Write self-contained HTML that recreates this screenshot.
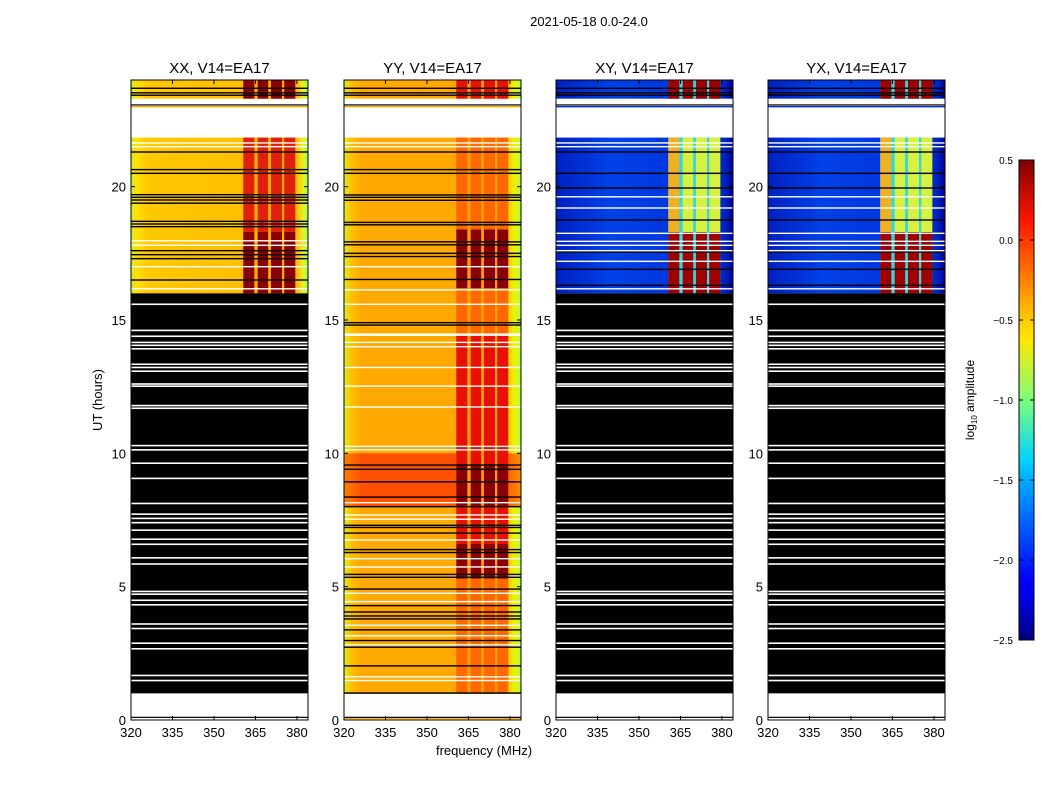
<!DOCTYPE html>
<html><head><meta charset="utf-8">
<style>
html,body{margin:0;padding:0;background:#fff;}
svg{display:block;font-family:"Liberation Sans",sans-serif;}
</style></head>
<body>
<svg id="chart" width="1050" height="800" viewBox="0 0 1050 800" xmlns="http://www.w3.org/2000/svg">
<defs>
<linearGradient id="gXX" x1="0" x2="1" y1="0" y2="0">
<stop offset="0" stop-color="#c8f030"/><stop offset="0.03" stop-color="#ffe000"/><stop offset="0.1" stop-color="#ffc800"/><stop offset="0.6" stop-color="#ffc000"/><stop offset="0.93" stop-color="#ffb000"/><stop offset="0.97" stop-color="#e8f020"/><stop offset="1" stop-color="#a8ff50"/>
</linearGradient>
<linearGradient id="gYY" x1="0" x2="1" y1="0" y2="0">
<stop offset="0" stop-color="#d8f020"/><stop offset="0.04" stop-color="#ffc000"/><stop offset="0.1" stop-color="#ffa800"/><stop offset="0.9" stop-color="#ffa800"/><stop offset="0.96" stop-color="#f0f000"/><stop offset="1" stop-color="#b0ff40"/>
</linearGradient>
<linearGradient id="gRED" x1="0" x2="1" y1="0" y2="0">
<stop offset="0" stop-color="#ff8000"/><stop offset="0.1" stop-color="#ff5000"/><stop offset="0.9" stop-color="#ff5000"/><stop offset="1" stop-color="#ff9000"/>
</linearGradient>
<linearGradient id="gXY" x1="0" x2="1" y1="0" y2="0">
<stop offset="0" stop-color="#0020c0"/><stop offset="0.3" stop-color="#0040e8"/><stop offset="0.6" stop-color="#0038e0"/><stop offset="0.95" stop-color="#0028c0"/><stop offset="1" stop-color="#0000a0"/>
</linearGradient>
<linearGradient id="gJet" x1="0" x2="0" y1="1" y2="0">
<stop offset="0" stop-color="#00007f"/><stop offset="0.11" stop-color="#0000ff"/><stop offset="0.125" stop-color="#0000ff"/><stop offset="0.34" stop-color="#00b0ff"/><stop offset="0.375" stop-color="#00d4ff"/><stop offset="0.5" stop-color="#7dff7a"/><stop offset="0.625" stop-color="#ffe600"/><stop offset="0.66" stop-color="#ffd000"/><stop offset="0.875" stop-color="#ff1400"/><stop offset="1" stop-color="#7f0000"/>
</linearGradient>
</defs>
</svg>
<script>
const hourTicks=[0,5,10,15,20];
const freqTicks=[320,335,350,365,380];
const bandEdges=[[360.6,364.6],[365.8,369.6],[370.6,374.6],[375.4,379.4]];
const panelTitles=["XX, V14=EA17","YY, V14=EA17","XY, V14=EA17","YX, V14=EA17"];
const cbTicks=[0.5,0.0,-0.5,-1.0,-1.5,-2.0,-2.5];
const cbLabels=["0.5","0.0","\u22120.5","\u22121.0","\u22121.5","\u22122.0","\u22122.5"];

// time blocks [start,end,bandLevel]
const xxBlocks=[[16.0,18.3,"high"],[18.3,21.84,"mid"],[23.3,24,"high"]];
const yyBlocks=[[1.0,5.3,"low"],[5.3,6.6,"high"],[6.6,8.0,"mid"],[8.0,9.6,"high"],[9.6,14.5,"mid"],[14.5,16.2,"low"],[16.2,18.4,"high"],[18.4,21.84,"low"],[23.3,24,"mid"]];
const yyRedBlocks=[[8.0,10.0]];
const xyBlocks=[[16.0,18.3,"high"],[18.3,21.84,"mid"],[23.3,24,"high"]];
const flaggedBlock=[1.0,16.0];
// line flags (hours)
const blackGapWhite=[1.48,1.67,2.67,2.88,3.43,3.6,4.32,4.49,4.72,4.82,5.85,6.08,6.59,6.78,7.12,7.4,7.56,7.72,8.12,9.06,9.63,10.13,10.29,11.69,11.79,12.52,12.6,13.08,13.22,13.34,13.92,14.05,14.16,14.39,14.61,15.59];
const xxBlackLines=[16.5,17.3,17.45,17.6,18.5,18.6,18.7,19.38,19.5,19.6,19.7,20.5,20.64,21.3,23.43,23.52,23.69];
const xxWhiteLines=[16.17,17.0,17.8,17.97,21.5,21.64];
const yyBlackLines=[2.03,2.73,2.98,3.38,3.79,3.9,4.05,4.29,4.91,5.35,5.46,6.28,6.39,7.01,7.22,7.3,8.0,8.36,8.93,9.4,9.56,14.81,14.9,16.52,17.38,17.5,17.82,17.93,18.57,18.66,19.49,19.6,19.69,20.5,20.64,21.3,23.43,23.52,23.69];
const yyWhiteLines=[1.48,1.62,2.82,3.16,3.55,4.44,4.75,5.74,6.05,6.75,7.53,7.69,8.15,10.13,10.26,11.74,12.52,13.22,14.0,14.16,14.43,14.47,15.59,16.13,17.0,21.5,21.64];
const xyBlackLines=[16.3,16.9,17.55,18.75,19.95,20.5,21.3,23.43,23.52,23.69];
const xyWhiteLines=[16.17,17.2,17.6,17.8,17.95,18.25,19.2,19.62,21.5,21.64];

const svg=document.getElementById('chart');
const NS="http://www.w3.org/2000/svg";
function mk(tag,attrs,parent){const e=document.createElementNS(NS,tag);for(const k in attrs)e.setAttribute(k,attrs[k]);(parent||svg).appendChild(e);return e;}

const panels=[{x0:131,kind:"xx"},{x0:344,kind:"yy"},{x0:556,kind:"xy"},{x0:768,kind:"yx"}];
const PW=177,PY0=80,PY1=720;
function yOf(h){return PY1-(h/24)*(PY1-PY0);}

const bandCol={
  xx:{high:"#880000",mid:"#e02008",low:"#ff7000",gap:"#ffb000"},
  yy:{high:"#8a0000",mid:"#e81000",low:"#ff6800",gap:"#ffa000"},
  xy:{high:"#a00000",mid:"#d8f040",low:"#a0ff60",gap:"#30d8e0"}
};

panels.forEach((p,pi)=>{
  const xOf=f=>p.x0+(f-320)*PW/64;
  const g=mk('g',{});
  
  
  const isCross=(p.kind==="xy"||p.kind==="yx");
  const cols=isCross?bandCol.xy:bandCol[p.kind];
  const blocks=p.kind==="yy"?yyBlocks:(isCross?xyBlocks:xxBlocks);
  const bgFill=p.kind==="yy"?"url(#gYY)":(isCross?"url(#gXY)":"url(#gXX)");
  blocks.forEach(b=>{
    const r=mk('rect',{x:p.x0,y:yOf(b[1]),width:PW,height:yOf(b[0])-yOf(b[1]),fill:bgFill},g);
    
    
  });
  if(p.kind==="yy"){
    yyRedBlocks.forEach(b=>{
      const r=mk('rect',{x:p.x0,y:yOf(b[1]),width:PW,height:yOf(b[0])-yOf(b[1]),fill:"url(#gRED)"},g);
      
      
    });
  }
  // band region
  blocks.forEach(b=>{
    const gap=mk('rect',{x:xOf(bandEdges[0][0]),y:yOf(b[1]),width:xOf(bandEdges[3][1])-xOf(bandEdges[0][0]),height:yOf(b[0])-yOf(b[1]),fill:cols.gap},g);
    
    
    bandEdges.forEach(e=>{
      const c=(isCross&&b[2]==="mid")?(e[0]<365?"#f0b020":"#d8f040"):cols[b[2]];
      const r=mk('rect',{x:xOf(e[0]),y:yOf(b[1]),width:xOf(e[1])-xOf(e[0]),height:yOf(b[0])-yOf(b[1]),fill:c},g);
      
      
    });
  });
  if(p.kind!=="yy"){
    const fb=mk('rect',{x:p.x0,y:yOf(flaggedBlock[1]),width:PW,height:yOf(flaggedBlock[0])-yOf(flaggedBlock[1]),fill:"#000"},g);
    
    
    blackGapWhite.forEach(h=>{
      const l=mk('rect',{x:p.x0,y:yOf(h)-0.8,width:PW,height:1.6,fill:"#fff"},g);
      
      
    });
  } else {
    const b1=mk('rect',{x:p.x0,y:yOf(1.0)-1,width:PW,height:1.5,fill:"#000"},g);
    
    
    const ol=mk('rect',{x:p.x0,y:yOf(0.05)-1,width:PW,height:1.5,fill:"#ffb000"},g);
    
    
  }
  const bl=p.kind==="yy"?yyBlackLines:(isCross?xyBlackLines:xxBlackLines);
  const wl=p.kind==="yy"?yyWhiteLines:(isCross?xyWhiteLines:xxWhiteLines);
  bl.forEach(h=>{
    const l=mk('rect',{x:p.x0,y:yOf(h)-0.7,width:PW,height:1.4,fill:"#000"},g);
    
    
  });
  wl.forEach(h=>{
    const l=mk('rect',{x:p.x0,y:yOf(h)-0.7,width:PW,height:1.4,fill:"#fff"},g);
    
    
  });
  // thin line in white gap ~23.0
  const tl=mk('rect',{x:p.x0,y:yOf(23.0)-0.7,width:PW,height:1.4,fill:isCross?"#0030d0":"#ffb000"},g);
  
  
  const tb=mk('rect',{x:p.x0,y:yOf(23.05)-1,width:PW,height:1.2,fill:"#000"},g);
  
  
  // bottom line near 0
  const bt=mk('rect',{x:p.x0,y:yOf(0.1)-0.6,width:PW,height:1.2,fill:"#000"},g);
  
  
  // frame
  const fr=mk('rect',{x:p.x0,y:PY0,width:PW,height:PY1-PY0,fill:"none",stroke:"#000","stroke-width":1},g);
  
  
  // ticks
  freqTicks.forEach((f,i)=>{
    const x=xOf(f);
    const t1=mk('line',{x1:x,x2:x,y1:PY1,y2:PY1-4,stroke:"#000"},g);
    
    
    const t2=mk('line',{x1:x,x2:x,y1:PY0,y2:PY0+4,stroke:"#000"},g);
    
    
    const tx=mk('text',{x:x,y:PY1+17,"font-size":13,"text-anchor":"middle",fill:"#000"},g);
    tx.textContent=String(f);
    
    
  });
  hourTicks.forEach(h=>{
    const y=yOf(h);
    const t1=mk('line',{x1:p.x0,x2:p.x0+4,y1:y,y2:y,stroke:"#000"},g);
    
    
    const t2=mk('line',{x1:p.x0+PW,x2:p.x0+PW-4,y1:y,y2:y,stroke:"#000"},g);
    
    
    const tx=mk('text',{x:p.x0-5,y:y+5,"font-size":13,"text-anchor":"end",fill:"#000"},g);
    tx.textContent=String(h);
    
    
  });
  const tt=mk('text',{x:p.x0+PW/2,y:73,"font-size":15,"text-anchor":"middle",fill:"#000"},g);
  tt.textContent=panelTitles[pi];
  
  
});

// figure labels
const st=mk('text',{x:589,y:26,"font-size":13,"text-anchor":"middle"});
st.textContent="2021-05-18 0.0-24.0";


const xl=mk('text',{x:484,y:755,"font-size":13,"text-anchor":"middle"});
xl.textContent="frequency (MHz)";


const yl=mk('text',{x:0,y:0,"font-size":13,"text-anchor":"middle",transform:"translate(102,400) rotate(-90)"});
yl.textContent="UT (hours)";



// colorbar
const CBX=1019,CBW=15,CBY0=160,CBY1=640;
const cbY=v=>CBY1-(v-(-2.5))/3.0*(CBY1-CBY0);
const cb=mk('rect',{x:CBX,y:CBY0,width:CBW,height:CBY1-CBY0,fill:"url(#gJet)",stroke:"#000","stroke-width":1});


cbTicks.forEach((v,i)=>{
  const y=cbY(v);
  const t=mk('line',{x1:CBX,x2:CBX+4,y1:y,y2:y,stroke:"#000"});
  
  
  const t2=mk('line',{x1:CBX+CBW,x2:CBX+CBW-4,y1:y,y2:y,stroke:"#000"});
  
  
  const tx=mk('text',{x:1013,y:y+4,"font-size":10,"text-anchor":"end"});
  tx.textContent=cbLabels[i];
  
  
});
const cl=mk('text',{x:0,y:0,"font-size":12,"text-anchor":"middle",transform:"translate(974,400) rotate(-90)"});
cl.innerHTML='log<tspan font-size="8" dy="3">10</tspan><tspan dy="-3"> amplitude</tspan>';


</script>
</body></html>
